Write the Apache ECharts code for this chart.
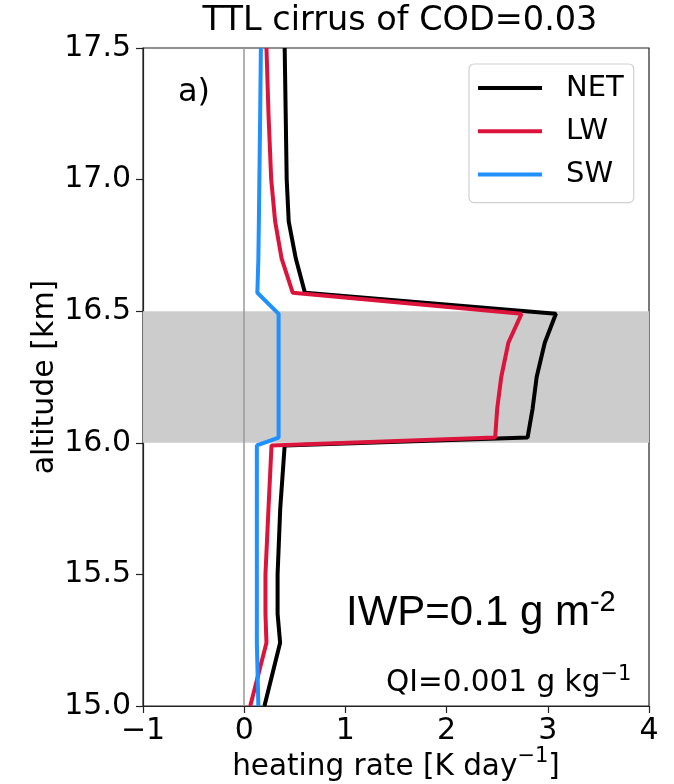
<!DOCTYPE html>
<html>
<head>
<meta charset="utf-8">
<script src="https://cdn.jsdelivr.net/npm/echarts@6/dist/echarts.min.js"></script>
<style>html,body{margin:0;padding:0;background:#fff;}#c{width:674px;height:784px;}</style>
</head>
<body>
<div id="c"></div>
<script>
// altitude levels [km]
var altitude = [15.0, 15.24, 15.35, 15.5, 15.75, 15.99, 16.02, 16.13, 16.25, 16.38, 16.49, 16.57, 16.7, 16.84, 17.0, 17.25, 17.5];
// heating rates [K/day]
var netHR = [0.20, 0.355, 0.33, 0.33, 0.356, 0.40, 2.80, 2.85, 2.89, 2.97, 3.08, 0.60, 0.51, 0.44, 0.42, 0.41, 0.40];
var lwHR  = [0.06, 0.22, 0.21, 0.21, 0.24, 0.27, 2.48, 2.50, 2.54, 2.61, 2.74, 0.48, 0.37, 0.306, 0.267, 0.24, 0.22];
var swHR  = [0.14, 0.125, 0.125, 0.125, 0.125, 0.125, 0.34, 0.34, 0.34, 0.34, 0.34, 0.13, 0.14, 0.145, 0.15, 0.158, 0.165];
var seriesNames = ['NET', 'LW', 'SW'];
var seriesColors = ['#000000', '#dc143c', '#1e90ff'];
var cloudBase = 16.0, cloudTop = 16.5;
var xTicks = [-1, 0, 1, 2, 3, 4];
var yTicks = [15.0, 15.5, 16.0, 16.5, 17.0, 17.5];

function zip(xs) { return xs.map(function (v, i) { return [v, altitude[i]]; }); }
var values = [netHR, lwHR, swHR];

var FONT = 'DejaVu Sans';
var chart = echarts.init(document.getElementById('c'), null, {renderer: 'canvas'});

var series = [{
  name: '_bg', type: 'line', data: [], silent: true, z: 1,
  markArea: {silent: true, itemStyle: {color: '#cccccc'}, data: [[{yAxis: cloudBase}, {yAxis: cloudTop}]]},
  markLine: {silent: true, symbol: 'none', label: {show: false}, lineStyle: {color: '#999999', width: 1.5, type: 'solid'}, data: [{xAxis: 0}]}
}];
seriesNames.forEach(function (n, i) {
  series.push({
    name: n, type: 'line', data: zip(values[i]), showSymbol: false, symbol: 'none',
    lineStyle: {color: seriesColors[i], width: 4}, itemStyle: {color: seriesColors[i]},
    z: 3 + i, animation: false
  });
});

chart.setOption({
  animation: false,
  grid: {left: 143, right: 25, top: 48, bottom: 78, containLabel: false, outerBoundsMode: 'none',
         show: true, borderColor: '#222', borderWidth: 1.2, backgroundColor: 'transparent'},
  xAxis: {
    type: 'value', min: xTicks[0], max: xTicks[xTicks.length - 1], interval: 1,
    axisLine: {show: true, onZero: false, lineStyle: {color: '#222', width: 1.2}},
    axisTick: {show: true, inside: false, length: 7, lineStyle: {color: '#222', width: 1.2}},
    splitLine: {show: false},
    axisLabel: {margin: 10, color: '#000', fontFamily: FONT, fontSize: 30,
      formatter: function (v) { return v < 0 ? '\u2212' + Math.abs(v) : String(v); }},
    name: '{a|heating rate [K day}{b|\u22121}{a|]}', nameLocation: 'middle', nameGap: 40, nameMoveOverlap: false,
    nameTextStyle: {rich: {
      a: {fontFamily: FONT, fontSize: 29.5, color: '#000', lineHeight: 36, verticalAlign: 'bottom'},
      b: {fontFamily: FONT, fontSize: 21, color: '#000', lineHeight: 36, verticalAlign: 'top'}
    }}
  },
  yAxis: {
    type: 'value', min: yTicks[0], max: yTicks[yTicks.length - 1], interval: 0.5,
    axisLine: {show: true, onZero: false, lineStyle: {color: '#222', width: 1.2}},
    axisTick: {show: true, inside: false, length: 7, lineStyle: {color: '#222', width: 1.2}},
    splitLine: {show: false},
    axisLabel: {margin: 12, color: '#000', fontFamily: FONT, fontSize: 30,
      formatter: function (v) { return v.toFixed(1); }},
    name: 'altitude [km]', nameLocation: 'middle', nameGap: 83, nameMoveOverlap: false,
    nameTextStyle: {fontFamily: FONT, fontSize: 30, color: '#000'}
  },
  legend: {
    data: seriesNames, orient: 'vertical', left: 469, top: 64,
    icon: 'rect', itemWidth: 64, itemHeight: 4, itemGap: 13.3,
    padding: [9, 10, 13, 9],
    backgroundColor: 'rgba(255,255,255,0.8)', borderColor: '#d0d0d0', borderWidth: 1.2, borderRadius: 5,
    textStyle: {fontFamily: FONT, fontSize: 29, color: '#000', lineHeight: 30, padding: [0, 0, 0, 19]}
  },
  graphic: [
    {type: 'text', x: 400, y: 21, z: 10, style: {text: 'TTL cirrus of COD=0.03', fontFamily: FONT, fontSize: 33.5, fill: '#000', textAlign: 'center', textVerticalAlign: 'middle'}},
    {type: 'text', x: 178, y: 93, z: 10, style: {text: 'a)', fontFamily: FONT, fontSize: 32, fill: '#000', textAlign: 'left', textVerticalAlign: 'middle'}},
    {type: 'text', x: 346, y: 611, z: 10, style: {text: '{a|IWP=0.1 g m}{b|-2}', textAlign: 'left', textVerticalAlign: 'middle',
      rich: {a: {fontFamily: 'Liberation Sans', fontSize: 42, fill: '#000', lineHeight: 46, verticalAlign: 'bottom'},
             b: {fontFamily: 'Liberation Sans', fontSize: 29, fill: '#000', lineHeight: 46, verticalAlign: 'top'}}}},
    {type: 'text', x: 386, y: 681, z: 10, style: {text: '{a|QI=0.001 g kg}{b|\u22121}', textAlign: 'left', textVerticalAlign: 'middle',
      rich: {a: {fontFamily: FONT, fontSize: 29.5, fill: '#000', lineHeight: 34, verticalAlign: 'bottom'},
             b: {fontFamily: FONT, fontSize: 21, fill: '#000', lineHeight: 34, verticalAlign: 'top'}}}}
  ],
  series: series
});
</script>
</body>
</html>
